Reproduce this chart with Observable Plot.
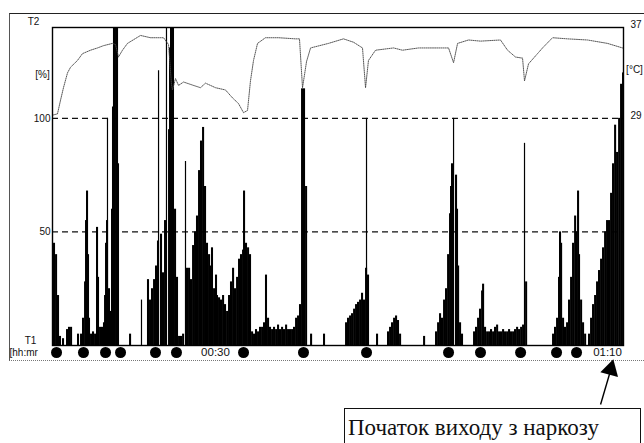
<!DOCTYPE html>
<html><head><meta charset="utf-8">
<script src="https://cdn.jsdelivr.net/npm/d3@7"></script>
<script src="https://cdn.jsdelivr.net/npm/@observablehq/plot@0.6"></script>
<style>
body{margin:0;background:#fff;}
#wrap{position:relative;width:644px;height:443px;overflow:hidden;background:#fff;}
#chart{position:absolute;left:0;top:0;}
#scan{position:absolute;left:9px;top:13px;width:640px;height:346px;border-top:1.5px solid #222;border-left:1px solid #555;border-bottom:1px dotted #777;}
#note{position:absolute;left:344px;top:408px;width:297px;height:42px;border:1px solid #111;font-family:"Liberation Serif","Times New Roman",serif;font-size:23px;line-height:1;padding:7px 0 0 3px;box-sizing:border-box;color:#111;white-space:nowrap;}
</style></head><body>
<div id="wrap"><div id="scan"></div><div id="chart"></div><div id="note">Початок виходу з наркозу</div></div>
<script>
// time in minutes from start of record
const barTime = [13.47,13.68,13.88,14.08,14.39,14.80,15.00,15.21,15.92,
16.23,16.43,16.64,16.74,16.84,16.94,17.04,17.25,17.45,17.66,
17.86,17.96,18.17,18.37,18.57,18.68,18.78,18.88,19.08,19.19,
19.39,19.49,19.59,19.80,19.90,20.00,21.23,
23.06,23.27,23.47,23.68,23.88,24.08,24.39,24.59,24.80,
25.21,25.31,25.41,25.61,25.82,26.02,26.23,26.43,26.64,
27.04,27.25,27.45,27.66,27.86,28.06,28.27,28.47,28.68,28.88,29.08,29.29,29.49,29.59,29.80,30.00,30.10,30.31,30.51,30.72,30.92,31.13,31.33,31.53,31.74,31.94,32.15,32.35,32.55,32.76,32.86,33.06,33.27,33.47,
33.68,33.88,34.08,34.29,34.49,34.70,34.90,35.10,35.31,35.51,35.72,35.92,36.13,36.33,36.53,36.74,36.94,37.15,37.35,37.55,37.76,37.96,38.17,38.37,38.57,38.78,38.98,39.19,
39.70,41.02,
43.27,43.47,43.68,43.88,44.09,44.29,44.49,44.70,44.90,45.10,45.31,45.51,46.43,
47.55,47.76,47.96,48.17,48.37,48.57,48.78,51.23,
52.45,52.66,52.86,53.06,53.27,53.47,53.68,53.88,53.98,54.08,54.49,54.59,54.70,54.90,55.10,
56.33,56.53,56.74,56.94,57.15,57.25,57.45,57.66,57.86,58.06,58.27,58.47,58.68,58.88,59.08,59.29,59.49,59.70,59.90,60.10,60.31,60.51,60.72,60.92,61.13,61.33,61.64,
64.39,64.59,64.80,65.00,65.10,65.21,65.41,65.61,65.82,66.02,66.23,66.43,66.64,66.74,66.94,67.04,67.25,67.45,67.66,
68.06,68.27,68.47,68.68,68.88,69.08,69.29,69.49,69.70,69.90,70.10,70.31,70.51,70.72,70.92,71.13,71.33,71.53];
// activity [%]
const barValue = [45,40,22,4,3,7,8,8,5,
5,12,28,55,68,40,12,5,6,5,
52,30,8,8,10,22,45,55,25,15,
60,105,140,140,140,80,5,
29,20,25,29,35,46,49,32,55,
95,131,150,140,60,30,4,4,5,
34,34,29,44,50,57,77,90,96,70,45,40,35,43,25,31,22,21,20,22,18,15,22,28,34,25,30,38,40,42,68,45,43,40,
6,5,7,6,8,8,10,31,12,8,7,8,7,9,7,8,7,9,7,7,7,8,12,13,18,113,113,70,
5,5,
10,12,13,14,16,18,19,20,23,20,34,31,5,
6,8,10,12,13,11,5,4,
6,10,14,12,20,25,40,58,70,80,75,60,35,10,5,
6,8,12,16,24,27,8,6,6,7,6,8,9,6,6,7,6,6,7,6,6,7,8,7,8,9,28,
5,8,12,30,50,45,12,8,10,20,30,45,57,50,68,40,20,10,5,
5,12,18,22,28,33,38,43,50,55,55,67,80,97,85,100,115,120];
// thin single spikes
const spikeTime = [18.98,22.45,24.19,25.00,26.94,45.41,54.29,61.53];
const spikeValue = [100,20,121,150,81,100,100,89];
// temperature [°C]
const tempTime = [13.47,13.88,14.19,14.49,14.90,15.21,15.92,16.43,17.25,17.96,18.57,19.49,19.80,20.10,20.51,21.02,22.35,23.37,24.70,25.21,25.51,25.61,25.92,26.23,26.74,27.76,28.47,28.98,30.00,31.02,31.74,32.35,32.86,33.27,33.57,33.88,34.29,35.10,36.43,38.17,38.57,38.88,39.29,39.70,41.53,43.06,44.09,45.00,45.31,45.61,46.33,48.17,49.08,50.72,53.78,54.29,54.70,55.82,57.04,59.08,59.80,60.61,61.33,61.53,61.94,62.86,63.37,64.39,65.92,67.96,70.00,71.53];
const tempValue = [29.3,29.4,30.6,31.7,33.0,33.5,34.1,34.7,35.0,35.2,35.4,35.6,35.5,34.4,35.0,35.6,36.3,36.1,36.1,35.5,32.0,31.5,32.5,31.9,32.2,31.9,31.7,32.1,31.7,31.5,30.8,30.3,29.5,29.7,32.3,34.1,35.6,36.1,36.1,36.0,36.0,31.7,34.0,35.2,35.6,36.0,35.7,35.2,31.7,34.1,35.0,35.2,35.0,35.2,35.2,33.9,35.6,35.9,35.8,35.9,35.0,34.4,34.3,32.3,33.8,34.7,35.2,36.1,36.0,35.9,35.6,35.2];
// event markers
const eventTime = [13.78,16.53,18.78,20.31,23.88,26.02,32.86,38.98,45.41,53.78,57.04,61.13,64.80,66.84];
const pctTicks = [50, 100];
const tempTicks = [29, 37];
const timeTicks = [30, 70];
const emergenceTime = 70.31;

const toPct = c => 100 + (c - 29) * 5;
const toC = p => 29 + (p - 100) / 5;
const hhmm = m => String(Math.floor(m / 60)).padStart(2, "0") + ":" + String(m % 60).padStart(2, "0");
const barWidth = 0.21;

const bars = barTime.map((t, i) => ({t, v: barValue[i]}));
const spikes = spikeTime.map((t, i) => ({t, v: spikeValue[i]}));
const temps = tempTime.map((t, i) => ({t, c: tempValue[i]}));

const chart = Plot.plot({
  width: 644, height: 443,
  marginLeft: 52, marginRight: 21, marginTop: 27, marginBottom: 98,
  x: {domain: [13.37, 71.63], label: null},
  y: {domain: [0, 140], label: null},
  style: {fontFamily: "'Liberation Sans', Arial, sans-serif", fontSize: "10px", color: "#111", background: "transparent", overflow: "visible"},
  marks: [
    Plot.ruleY(pctTicks, {stroke: "#111", strokeWidth: 1.3, strokeDasharray: "6,4"}),
    Plot.rectY(bars, {x1: "t", x2: d => d.t + barWidth, y: "v", fill: "#000", clip: true}),
    Plot.ruleX(spikes, {x: "t", y1: 0, y2: "v", stroke: "#000", strokeWidth: 1.2, clip: true}),
    Plot.line(temps, {x: "t", y: d => toPct(d.c), stroke: "#444", strokeWidth: 0.9, strokeDasharray: "1,1.1"}),
    Plot.frame({stroke: "#000", strokeWidth: 1.4}),
    Plot.axisY(pctTicks, {anchor: "left", tickSize: 0, tickPadding: 2, label: null}),
    Plot.axisY(tempTicks.map(toPct), {anchor: "right", tickSize: 0, tickPadding: 7, dy: -3, label: null, tickFormat: p => String(Math.round(toC(p)))}),
    Plot.axisX(timeTicks, {tickSize: 0, tickPadding: 2, fontSize: 11.5, label: null, tickFormat: hhmm}),
    Plot.dot(eventTime, {x: d => d, frameAnchor: "bottom", dy: 7, r: 5.5, fill: "#000"}),
    Plot.text(["T2"], {frameAnchor: "top-left", dx: -19, dy: -6, textAnchor: "middle", lineAnchor: "middle"}),
    Plot.text(["[%]"], {frameAnchor: "top-left", dx: -10, dy: 47, textAnchor: "middle", lineAnchor: "middle"}),
    Plot.text(["T1"], {frameAnchor: "bottom-left", dx: -22, dy: -5, textAnchor: "middle", lineAnchor: "middle"}),
    Plot.text(["[hh:mr"], {frameAnchor: "bottom-left", dx: -43, dy: 7, textAnchor: "start", lineAnchor: "middle"}),
    Plot.text(["[°C]"], {frameAnchor: "top-right", dx: 11, dy: 42, textAnchor: "middle", lineAnchor: "middle"}),
    Plot.link([emergenceTime], {x1: d => d - 1.02, y1: -26, x2: d => d, y2: -11, stroke: "#000", strokeWidth: 1.4}),
    Plot.dot([emergenceTime], {x: d => d, y: -10.6, symbol: "triangle", r: 6.8, fill: "#000", rotate: 15})
  ]
});
document.getElementById("chart").appendChild(chart);
</script>
</body></html>
